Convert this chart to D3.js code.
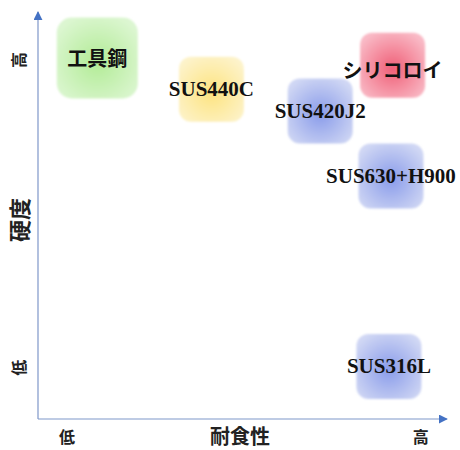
<!DOCTYPE html>
<html><head><meta charset="utf-8">
<script src="https://cdn.jsdelivr.net/npm/d3@7"></script>
<style>body{margin:0;background:#fff}svg{display:block}</style>
</head><body>
<svg id="c" width="460" height="450"></svg>
<script>
// Data
const materials = ["工具鋼", "SUS440C", "シリコロイ", "SUS420J2", "SUS630+H900", "SUS316L"];
const corrosion = [1.45, 4.24, 8.67, 6.9, 8.63, 8.58];   // x: 耐食性 (0-10)
const hardness  = [8.87, 8.1, 8.69, 7.57, 5.97, 1.29];    // y: 硬度 (0-10)
const groups    = ["tool", "mart", "silicoloy", "stain", "stain", "stain"];
const xTickLabels = ["低", "高"];
const yTickLabels = ["低", "高"];
const xTitle = "耐食性";
const yTitle = "硬度";

// Styles
const palette = {
  tool:      {c0: "#b2ec96", c1: "#dcf6d1", size: 81, r: 15, font: "jp"},
  mart:      {c0: "#fde380", c1: "#fdf3ca", size: 65, r: 12, font: "en"},
  silicoloy: {c0: "#f06078", c1: "#f9bac6", size: 65, r: 12, font: "jp"},
  stain:     {c0: "#8a9cea", c1: "#d0d7f4", size: 65, r: 12, font: "en"}
};

const svg = d3.select("#c");
const x = d3.scaleLinear().domain([0, 10]).range([38, 447]);
const y = d3.scaleLinear().domain([0, 10]).range([419, 12]);

const defs = svg.append("defs");
Object.entries(palette).forEach(([k, p]) => {
  const g = defs.append("radialGradient").attr("id", "g-" + k)
    .attr("cx", "50%").attr("cy", "55%").attr("r", "62%");
  g.append("stop").attr("offset", "0%").attr("stop-color", p.c0);
  g.append("stop").attr("offset", "100%").attr("stop-color", p.c1);
});
defs.append("filter").attr("id", "soft")
  .append("feGaussianBlur").attr("stdDeviation", 0.8);
const mk = defs.append("marker").attr("id", "arr").attr("viewBox", "0 0 10 10")
  .attr("refX", 9).attr("refY", 5).attr("markerWidth", 9).attr("markerHeight", 9)
  .attr("markerUnits", "userSpaceOnUse").attr("orient", "auto");
mk.append("path").attr("d", "M0,0L10,5L0,10z").attr("fill", "#4472c4");

// Axes
const axisColor = "#7f97c9";
svg.append("line").attr("x1", x(0)).attr("y1", y(0)).attr("x2", x(0)).attr("y2", y(10))
  .attr("stroke", axisColor).attr("stroke-width", 1.2).attr("marker-end", "url(#arr)");
svg.append("line").attr("x1", x(0)).attr("y1", y(0)).attr("x2", x(10)).attr("y2", y(0))
  .attr("stroke", axisColor).attr("stroke-width", 1.2).attr("marker-end", "url(#arr)");

const jpFont = "'Noto Sans CJK JP', 'Noto Sans', sans-serif";
const enFont = "'Liberation Serif', 'DejaVu Serif', serif";

// Boxes
const data = materials.map((m, i) => ({m, cx: corrosion[i], cy: hardness[i], g: groups[i]}));
svg.append("g").selectAll("rect").data(data).join("rect")
  .attr("x", d => x(d.cx) - palette[d.g].size / 2)
  .attr("y", d => y(d.cy) - palette[d.g].size / 2)
  .attr("width", d => palette[d.g].size)
  .attr("height", d => palette[d.g].size)
  .attr("rx", d => palette[d.g].r)
  .attr("fill", d => "url(#g-" + d.g + ")")
  .attr("filter", "url(#soft)");

svg.append("g").selectAll("text").data(data).join("text")
  .attr("x", d => x(d.cx))
  .attr("y", d => y(d.cy) + (d.g === "silicoloy" ? 4 : 0))
  .attr("text-anchor", "middle").attr("dominant-baseline", "central")
  .attr("font-family", d => palette[d.g].font === "jp" ? jpFont : enFont)
  .attr("font-weight", "bold")
  .attr("font-size", d => palette[d.g].font === "jp" ? 20 : 21)
  .attr("fill", "#111")
  .text(d => d.m);

// Tick labels
svg.append("g").selectAll("text").data(xTickLabels).join("text")
  .attr("x", (d, i) => i === 0 ? x(0.71) : x(9.36))
  .attr("y", 436).attr("text-anchor", "middle").attr("dominant-baseline", "central")
  .attr("font-family", jpFont).attr("font-weight", "bold").attr("font-size", 16).attr("fill", "#222")
  .text(d => d);
svg.append("g").selectAll("text").data(yTickLabels).join("text")
  .attr("transform", (d, i) => `translate(18,${i === 0 ? y(1.26) : y(8.82)}) rotate(-90)`)
  .attr("text-anchor", "middle").attr("dominant-baseline", "central")
  .attr("font-family", jpFont).attr("font-weight", "bold").attr("font-size", 16).attr("fill", "#222")
  .text(d => d);

// Titles
svg.append("text").attr("x", 240).attr("y", 435)
  .attr("text-anchor", "middle").attr("dominant-baseline", "central")
  .attr("font-family", jpFont).attr("font-weight", "bold").attr("font-size", 20).attr("fill", "#222")
  .text(xTitle);
svg.append("text").attr("transform", "translate(18,220) rotate(-90)")
  .attr("text-anchor", "middle").attr("dominant-baseline", "central")
  .attr("font-family", jpFont).attr("font-weight", "bold").attr("font-size", 22).attr("fill", "#222")
  .text(yTitle);
</script>
</body></html>
